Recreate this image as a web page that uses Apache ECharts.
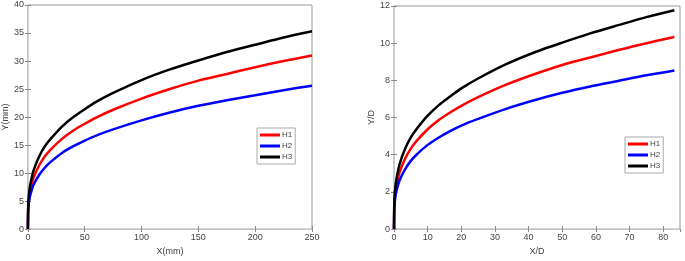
<!DOCTYPE html>
<html>
<head>
<meta charset="utf-8">
<script src="https://cdn.jsdelivr.net/npm/echarts@6/dist/echarts.min.js"></script>
<style>
  html, body { margin: 0; padding: 0; background: #fff; }
  #chart { width: 685px; height: 261px; }
</style>
</head>
<body>
<div id="chart"></div>
<script>
// left panel: X(mm) vs Y(mm)
var xMm = [0, 0.2, 0.5, 1, 2, 5, 10, 15, 20, 30, 40, 50, 60, 75, 100, 125, 150, 175, 200, 225, 250];
var h1Mm = [0, 3.4, 4.5, 5.6, 6.9, 9.2, 11.4, 13.0, 14.2, 16.1, 17.6, 18.8, 19.9, 21.3, 23.3, 25.0, 26.5, 27.7, 28.9, 30.0, 31.0];
var h2Mm = [0, 3.0, 4.0, 4.9, 6.0, 7.9, 9.7, 11.0, 12.0, 13.6, 14.8, 15.8, 16.7, 17.8, 19.4, 20.8, 22.0, 23.0, 23.9, 24.8, 25.6];
var h3Mm = [0, 3.9, 5.1, 6.4, 7.9, 10.5, 13.0, 14.8, 16.1, 18.3, 20.0, 21.4, 22.7, 24.3, 26.6, 28.5, 30.1, 31.6, 32.9, 34.2, 35.3];

// right panel: X/D vs Y/D
var xD = [0, 0.07, 0.17, 0.33, 0.67, 1.67, 3.33, 5, 6.67, 10, 13.33, 16.67, 20, 25, 33.33, 41.67, 50, 58.33, 66.67, 75, 83.33];
var h1D = [0, 1.13, 1.5, 1.87, 2.3, 3.07, 3.8, 4.33, 4.73, 5.37, 5.87, 6.27, 6.63, 7.1, 7.77, 8.33, 8.83, 9.23, 9.63, 10.0, 10.33];
var h2D = [0, 1.0, 1.33, 1.63, 2.0, 2.63, 3.23, 3.67, 4.0, 4.53, 4.93, 5.27, 5.57, 5.93, 6.47, 6.93, 7.33, 7.67, 7.97, 8.27, 8.53];
var h3D = [0, 1.3, 1.7, 2.13, 2.63, 3.5, 4.33, 4.93, 5.37, 6.1, 6.67, 7.13, 7.57, 8.1, 8.87, 9.5, 10.03, 10.53, 10.97, 11.4, 11.77];

var names = ["H1", "H2", "H3"];
var colors = ["#ff0000", "#0000ff", "#000000"];

var font = "Liberation Sans, Arial, sans-serif";
var txt = "#444";

function pairs(xs, ys) {
  return xs.map(function (x, i) { return [x, ys[i]]; });
}

function axisX(idx, pos, name, max, interval) {
  return {
    type: "value", gridIndex: idx, position: pos,
    min: 0, max: max, interval: interval,
    name: pos === "bottom" ? name : "",
    nameLocation: "middle", nameGap: 16,
    nameTextStyle: { color: txt, fontSize: 9, fontFamily: font },
    axisLine: { show: false },
    axisTick: { show: true, inside: true, length: 3, lineStyle: { color: "#888" } },
    axisLabel: { show: pos === "bottom", color: txt, fontSize: 9, fontFamily: font, margin: 4, showMaxLabel: max % interval === 0 },
    splitLine: { show: false }
  };
}

function axisY(idx, pos, name, max, interval) {
  return {
    type: "value", gridIndex: idx, position: pos,
    min: 0, max: max, interval: interval,
    name: pos === "left" ? name : "",
    nameLocation: "middle", nameGap: 15,
    nameTextStyle: { color: txt, fontSize: 9, fontFamily: font },
    axisLine: { show: false },
    axisTick: { show: true, inside: true, length: 3, lineStyle: { color: "#888" } },
    axisLabel: { show: pos === "left", color: txt, fontSize: 9, fontFamily: font, margin: 4 },
    splitLine: { show: false }
  };
}

var series = [];
[[h1Mm, h2Mm, h3Mm], [h1D, h2D, h3D]].forEach(function (set, g) {
  var xs = g === 0 ? xMm : xD;
  set.forEach(function (ys, i) {
    series.push({
      name: names[i], type: "line",
      xAxisIndex: g * 2, yAxisIndex: g * 2,
      data: pairs(xs, ys),
      smooth: 0.25,
      showSymbol: false,
      lineStyle: { color: colors[i], width: 2.5 },
      itemStyle: { color: colors[i] },
      animation: false
    });
  });
});

function legend(left, top) {
  return {
    orient: "vertical", left: left, top: top,
    data: names, icon: "rect",
    itemWidth: 20, itemHeight: 3, itemGap: 3,
    padding: [3, 3, 3, 3],
    borderColor: "#aaa", borderWidth: 1,
    textStyle: { color: txt, fontSize: 8, lineHeight: 8, fontFamily: font, padding: [0, 0, 0, -3] }
  };
}

var option = {
  backgroundColor: "#fff",
  grid: [
    { left: 25, top: 5, width: 287, height: 225, show: true, borderColor: "#999", borderWidth: 1 },
    { left: 394, top: 6, width: 286, height: 224, show: true, borderColor: "#999", borderWidth: 1 }
  ],
  xAxis: [
    axisX(0, "bottom", "X(mm)", 250, 50),
    axisX(0, "top", "", 250, 50),
    axisX(1, "bottom", "X/D", 85, 10),
    axisX(1, "top", "", 85, 10)
  ],
  yAxis: [
    axisY(0, "left", "Y(mm)", 40, 5),
    axisY(0, "right", "", 40, 5),
    axisY(1, "left", "Y/D", 12, 2),
    axisY(1, "right", "", 12, 2)
  ],
  legend: [legend(257, 128), legend(625, 137)],
  series: series
};

var myChart = echarts.init(document.getElementById("chart"));
myChart.setOption(option);
</script>
</body>
</html>
